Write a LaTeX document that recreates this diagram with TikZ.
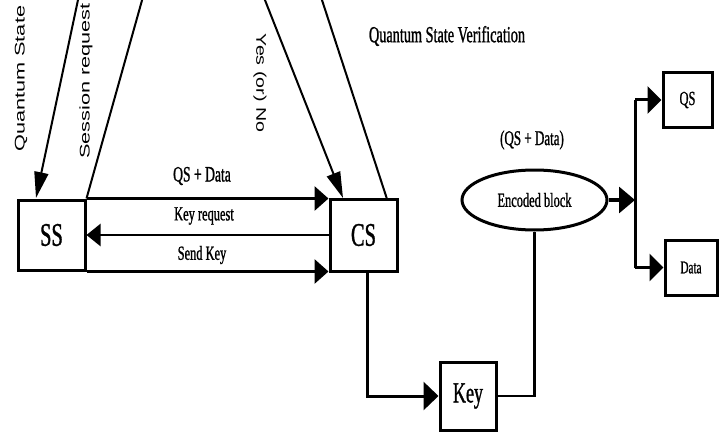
\documentclass[tikz,border=0pt]{standalone}
\usepackage{fontspec}
\setmainfont{Liberation Serif}
\newfontfamily\condf[FakeStretch=0.62,FakeBold=1]{Liberation Serif}
\newfontfamily\widef[FakeStretch=1.55]{Liberation Sans}
\newfontfamily\widefb[FakeStretch=1.4]{Liberation Sans}
\usetikzlibrary{arrows.meta,shapes.geometric,shadows}
\begin{document}
\begin{tikzpicture}[x=1pt,y=-1pt,
  lbl/.style={inner sep=0pt, font={\condf\fontsize{#1}{#1}\selectfont}},
  vlbl/.style={inner sep=0pt, font={\widef\fontsize{14}{16}\selectfont}},
  plainbox/.style={draw, line width=3pt, inner sep=0pt},
  shbox/.style={draw, line width=3pt, fill=white, inner sep=0pt,
    drop shadow={shadow xshift=2pt, shadow yshift=-2pt, fill=black, opacity=1}},
  harr/.style={line width=3.2pt, -{Triangle[length=14pt,width=24pt]}},
  harrthin/.style={line width=2.4pt, -{Triangle[length=14pt,width=22pt]}},
  varr/.style={line width=2pt, -{Triangle[length=26pt,width=14pt]}},
  slant/.style={line width=2pt},
  wire/.style={line width=3pt}
]
\useasboundingbox (0,0) rectangle (722,441);
\clip (0,0) rectangle (722,441);
\fill[white] (0,0) rectangle (722,441);

% boxes
\node[plainbox, minimum width=67pt, minimum height=70pt, font={\condf\fontsize{33}{33}\selectfont}] (SS) at (51.5,235) {SS};
\node[shbox, minimum width=67pt, minimum height=72pt, font={\condf\fontsize{33}{33}\selectfont}] (CS) at (363.5,235) {CS};
\node[shbox, minimum width=56pt, minimum height=68pt, font={\condf\fontsize{29}{29}\selectfont}] (Key) at (468,396) {Key};
\node[shbox, minimum width=49pt, minimum height=54pt, font={\condf\fontsize{20}{20}\selectfont}] (QS) at (687.5,100) {QS};
\node[shbox, minimum width=52pt, minimum height=55pt, font={\condf\fontsize{18}{18}\selectfont}] (Data) at (691,267.5) {Data};
\node[ellipse, draw, line width=3pt, minimum width=145pt, minimum height=60pt, inner sep=0pt,
      font={\condf\fontsize{20}{20}\selectfont}] (Enc) at (534.5,200) {Encoded block};

% slanted lines at top
\coordinate (qsA) at (80.1,-10);
\coordinate (qsB) at (36,198);
\coordinate (srA) at (144.9,-10);
\coordinate (ynA) at (261,-10);
\coordinate (ynB) at (343,198);
\coordinate (qvA) at (318.7,-10);
\coordinate (qvB) at (387,199);
\draw[varr] (qsA) -- (qsB);
\draw[slant] (SS.north east) -- (srA);
\draw[varr] (ynA) -- (ynB);
\draw[slant] (qvA) -- (qvB);

% horizontal arrows between SS and CS
\draw[harr] (SS.north east) -- (SS.north east -| CS.west);
\draw[harrthin] (CS.west) -- (SS.east);
\draw[harr] (SS.south east) -- (SS.south east -| CS.west);

% CS to Key, Key to encoded block
\coordinate (csd) at (367,271);
\draw[wire, -{Triangle[length=15pt,width=28pt]}] (csd) |- (Key.west);
\draw[line width=2.4pt] (Key.east) -| (Enc.south);

% encoded block to outputs
\coordinate (split) at (635,200);
\draw[line width=3.2pt, -{Triangle[length=16pt,width=26pt]}] (Enc.east) -- (split);
\draw[wire] (split |- QS.west) -- (split |- Data.west);
\draw[wire, -{Triangle[length=14pt,width=27pt]}] (split |- QS.west) -- (QS.west);
\draw[wire, -{Triangle[length=14pt,width=27pt]}] (split |- Data.west) -- (Data.west);

% labels
\node[vlbl, rotate=90, anchor=west] (lqs) at (21,152) {Quantum State};
\node[vlbl, rotate=90] (lsr) at (86,81) {Session request};
\node[vlbl, font={\widefb\fontsize{14}{16}\selectfont}, rotate=-90] (lyn) at (260,83) {Yes (or) No};
\node[lbl=23] (lqv) at (447,36) {Quantum State Verification};
\node[lbl=22] (lqd) at (202,176) {QS + Data};
\node[lbl=20] (lkr) at (204,216) {Key request};
\node[lbl=20] (lsk) at (202,255) {Send Key};
\node[lbl=21] (lqd2) at (532,140) {(QS + Data)};
\end{tikzpicture}
\end{document}
